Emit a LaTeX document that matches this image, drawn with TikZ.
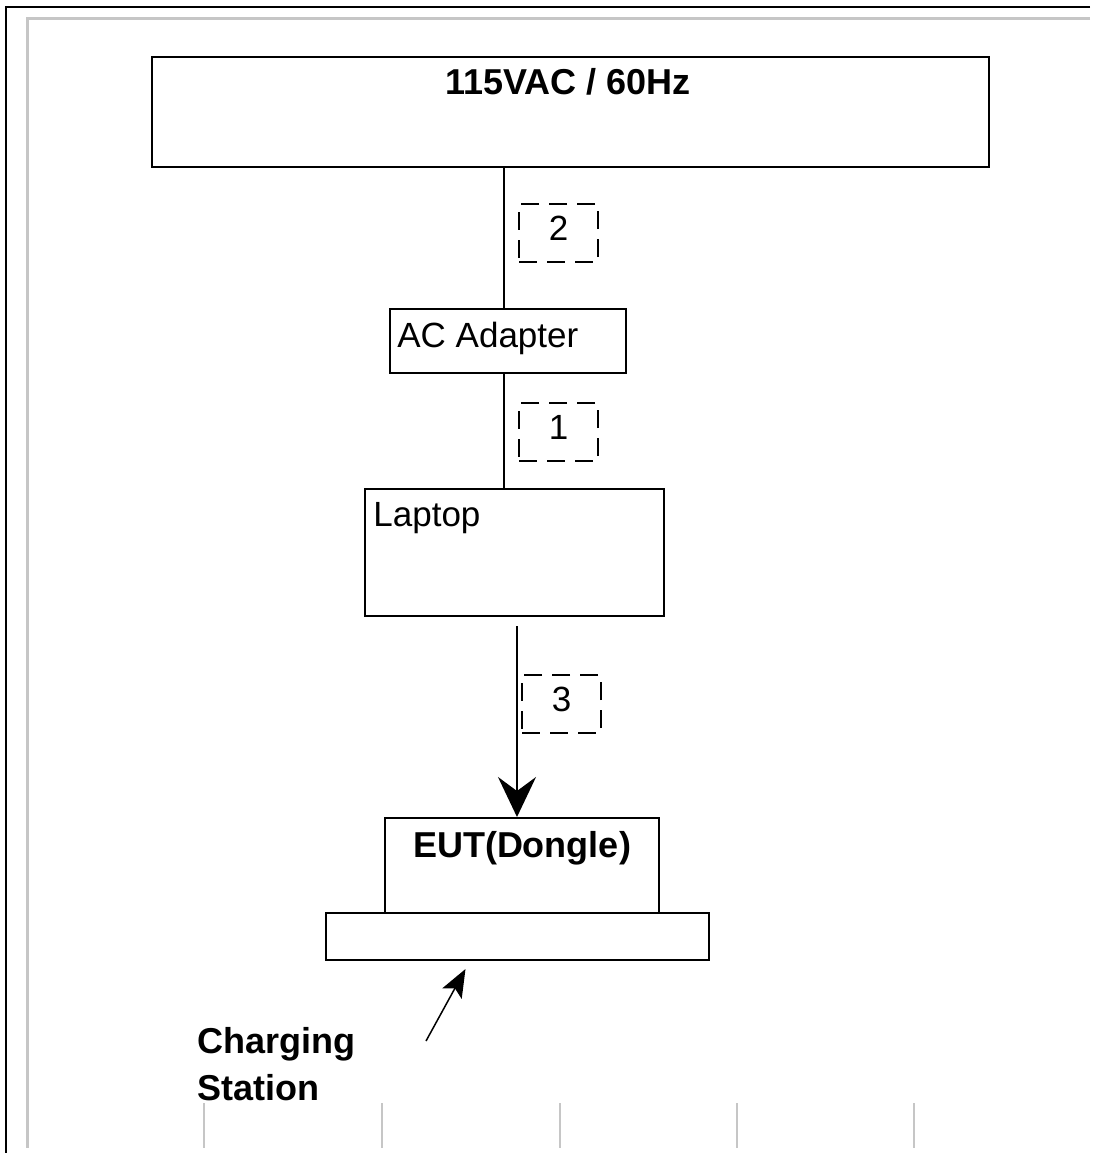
\documentclass[tikz,border=0pt]{standalone}
\usepackage{fontspec}
\setmainfont{Liberation Sans}
\usetikzlibrary{arrows.meta,calc}

\tikzset{
  box/.style={draw,line width=1pt,inner sep=0pt},
  cable/.style={line width=1pt},
  tag/.style={draw,dash pattern=on 9pt off 5pt,line width=0.75pt,
    minimum width=39.5pt,minimum height=29pt,inner sep=0pt,text depth=5pt},
  txt/.style={inner sep=0pt,font=\fontsize{17.5}{21}\selectfont},
  btxt/.style={inner sep=0pt,font=\fontsize{18}{23.5}\selectfont\bfseries}
}

\begin{document}
\begin{tikzpicture}[x=0.5pt,y=-0.5pt]
\useasboundingbox (0,0) rectangle (1098,1153);

% page frame
\draw[line width=1pt] (1090,7) -- (6,7) -- (6,1153);
\draw[gray!45,line width=1.5pt] (1090,18) -- (27,18) -- (27,1148);
\foreach \x in {204,382,560,737,914}
  \draw[gray!45,line width=1pt] (\x,1103) -- (\x,1148);

\node[box,minimum width=418.5pt,minimum height=55pt] (mains) at (570.5,112) {};
\node[btxt,anchor=base] (mainsT) at (568,94) {115VAC / 60Hz};

\node[box,minimum width=118pt,minimum height=32pt] (ac) at (508,341) {};
\node[txt,anchor=base west] (acT) at (397,347) {AC Adapter};

\node[box,minimum width=149.5pt,minimum height=63.5pt] (laptop) at (514.5,552.5) {};
\node[txt,anchor=base west] (laptopT) at (373,526) {Laptop};

\node[box,minimum width=137pt,minimum height=47.5pt] (eut) at (522,865.5) {};
\node[btxt,anchor=base] (eutT) at (522,857) {EUT(Dongle)};

\node[box,minimum width=191.5pt,minimum height=23.5pt] (dock) at (517.5,936.5) {};

\node[tag,txt] (c2) at (558.5,233) {2};
\node[tag,txt] (c1) at (558.5,432) {1};
\node[tag,txt] (c3) at (561.5,704) {3};

\draw[cable] ([xshift=-2pt]ac.north) -- ([xshift=-2pt]ac.north |- mains.south);
\draw[cable] ([xshift=-2pt]ac.south) -- ([xshift=-2pt]ac.south |- laptop.north);
\draw[cable,-{Stealth[length=20pt,width=19pt,inset=7pt]}]
  ([xshift=1.25pt,yshift=-4.5pt]laptop.south) -- ([xshift=1.25pt]laptop.south |- eut.north);

\node[btxt,align=left,anchor=base west] (dockT) at (197,1100) {Charging\\Station};
\coordinate (cs) at (426,1041);
\draw[line width=0.75pt,-{Stealth[length=14pt,width=11pt,inset=3pt]}]
  (cs) -- ([xshift=-26pt,yshift=-4pt]dock.south);

\end{tikzpicture}
\end{document}
